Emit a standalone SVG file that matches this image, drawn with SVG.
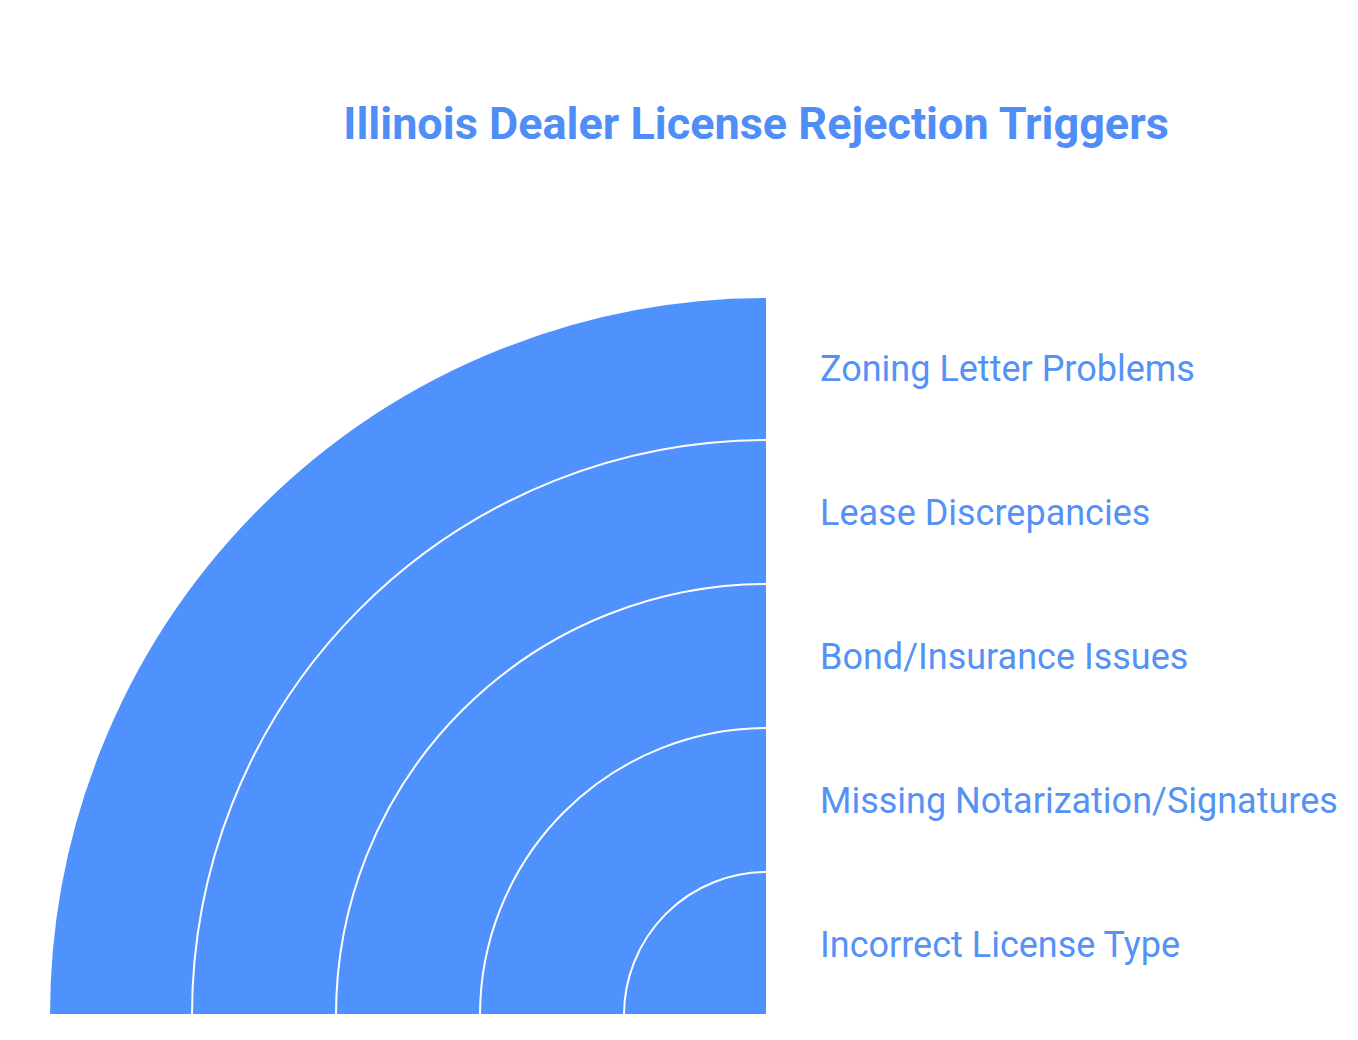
<svg xmlns="http://www.w3.org/2000/svg" width="1358" height="1040" viewBox="0 0 1358 1040">
<style>
.ring{fill:#4F91FD;stroke:#FFFFFF;stroke-width:2}
.lbl{font-family:Roboto,"Liberation Sans",sans-serif;font-size:36px;fill:#5592F5}
.title{font-family:Roboto,"Liberation Sans",sans-serif;font-size:45px;font-weight:bold;fill:#4F8EF7}
</style>
<rect width="1358" height="1040" fill="#FFFFFF"/>
<text class="title" x="756" y="139" text-anchor="middle">Illinois Dealer License Rejection Triggers</text>
<g id="ring5"><path class="ring" d="M767 1015 L49 1015 A718 718 0 0 1 767 297 Z"/></g>
<g id="ring4"><path class="ring" d="M767 1015 L192 1015 A575 575 0 0 1 767 440 Z"/></g>
<g id="ring3"><path class="ring" d="M767 1015 L336 1015 A431 431 0 0 1 767 584 Z"/></g>
<g id="ring2"><path class="ring" d="M767 1015 L480 1015 A287 287 0 0 1 767 728 Z"/></g>
<g id="ring1"><path class="ring" d="M767 1015 L624 1015 A143 143 0 0 1 767 872 Z"/></g>
<g id="connectors"></g>
<g id="labels">
<text class="lbl" x="820" y="381">Zoning Letter Problems</text>
<text class="lbl" x="820" y="525">Lease Discrepancies</text>
<text class="lbl" x="820" y="669">Bond/Insurance Issues</text>
<text class="lbl" x="820" y="813">Missing Notarization/Signatures</text>
<text class="lbl" x="820" y="957">Incorrect License Type</text>
</g>
</svg>
